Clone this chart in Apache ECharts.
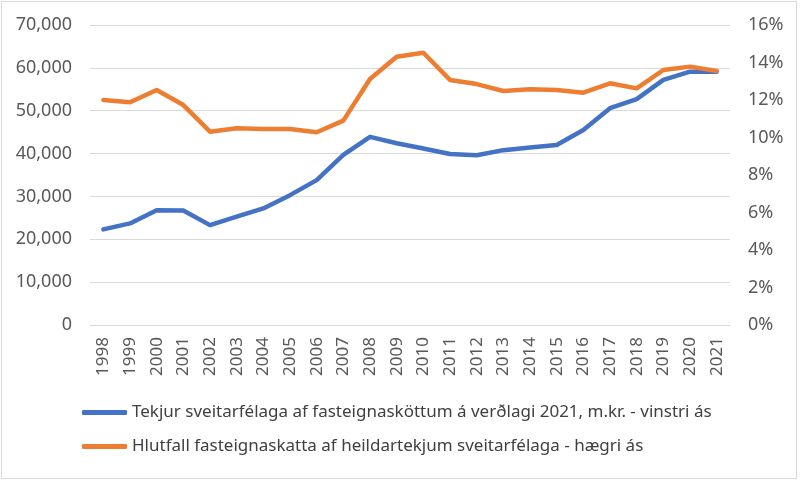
<!DOCTYPE html>
<html>
<head>
<meta charset="utf-8">
<script src="https://cdn.jsdelivr.net/npm/echarts@6/dist/echarts.min.js"></script>
<style>
  html, body { margin: 0; padding: 0; background: #fff; }
  #main { position: absolute; left: 0; top: 0; width: 800px; height: 482px; }
  #frame { position: absolute; left: 1px; top: 1px; width: 796px; height: 478px; border: 1px solid #d9d9d9; box-sizing: border-box; pointer-events: none; }
</style>
</head>
<body>
<div id="main"></div>
<div id="frame"></div>
<script>
// ár
var years = ['1998','1999','2000','2001','2002','2003','2004','2005','2006','2007','2008','2009',
  '2010','2011','2012','2013','2014','2015','2016','2017','2018','2019','2020','2021'];
// tekjur af fasteignasköttum, m.kr. (vinstri ás)
var tekjur = [22300, 23700, 26800, 26700, 23300, 25300, 27200, 30300, 33800, 39700, 43900, 42400,
  41200, 39900, 39600, 40800, 41400, 42000, 45500, 50600, 52700, 57200, 59100, 59100];
// hlutfall af heildartekjum, % (hægri ás)
var hlutfall = [12.0, 11.88, 12.53, 11.73, 10.31, 10.49, 10.45, 10.45, 10.28, 10.9, 13.12, 14.31,
  14.52, 13.07, 12.85, 12.48, 12.57, 12.53, 12.39, 12.89, 12.62, 13.6, 13.78, 13.55];
var legendNames = [
  'Tekjur sveitarfélaga af fasteignasköttum á verðlagi 2021, m.kr. - vinstri ás',
  'Hlutfall fasteignaskatta af heildartekjum sveitarfélaga - hægri ás'
];

var font = 'Noto Sans';
var chart = echarts.init(document.getElementById('main'));
var option = {
  backgroundColor: '#fff',
  animation: false,
  textStyle: { fontFamily: font },
  grid: { left: 90, right: 70, top: 25, bottom: 157 },
  legend: {
    orient: 'vertical',
    left: 77,
    top: 399,
    itemWidth: 45,
    itemHeight: 5,
    itemGap: 17,
    icon: 'roundRect',
    textStyle: { fontFamily: font, fontSize: 17, color: '#404040' },
    data: legendNames
  },
  xAxis: {
    type: 'category',
    data: years,
    boundaryGap: true,
    axisLine: { lineStyle: { color: '#d9d9d9', width: 1 } },
    axisTick: { show: false },
    axisLabel: { rotate: 90, margin: 12, fontSize: 17, color: '#595959', fontFamily: font, interval: 0 }
  },
  yAxis: [{
    type: 'value',
    min: 0, max: 70000, interval: 10000,
    axisLine: { show: false },
    axisTick: { show: false },
    splitLine: { lineStyle: { color: '#d9d9d9', width: 1 } },
    axisLabel: {
      margin: 18, fontSize: 18, color: '#595959', fontFamily: font,
      formatter: function (v) { return v.toLocaleString('en-US'); }
    }
  }, {
    type: 'value',
    min: 0, max: 0.16, interval: 0.02,
    axisLine: { show: false },
    axisTick: { show: false },
    splitLine: { show: false },
    axisLabel: {
      margin: 18, fontSize: 18, color: '#595959', fontFamily: font,
      formatter: function (v) { return Math.round(v * 100) + '%'; }
    }
  }],
  series: [{
    name: legendNames[0],
    type: 'line',
    yAxisIndex: 0,
    data: tekjur,
    symbol: 'none',
    color: '#4472C4',
    lineStyle: { width: 4.5, color: '#4472C4', cap: 'round', join: 'round' }
  }, {
    name: legendNames[1],
    type: 'line',
    yAxisIndex: 1,
    data: hlutfall.map(function (v) { return v / 100; }),
    symbol: 'none',
    color: '#ED7D31',
    lineStyle: { width: 4.5, color: '#ED7D31', cap: 'round', join: 'round' }
  }]
};
chart.setOption(option);
</script>
</body>
</html>
